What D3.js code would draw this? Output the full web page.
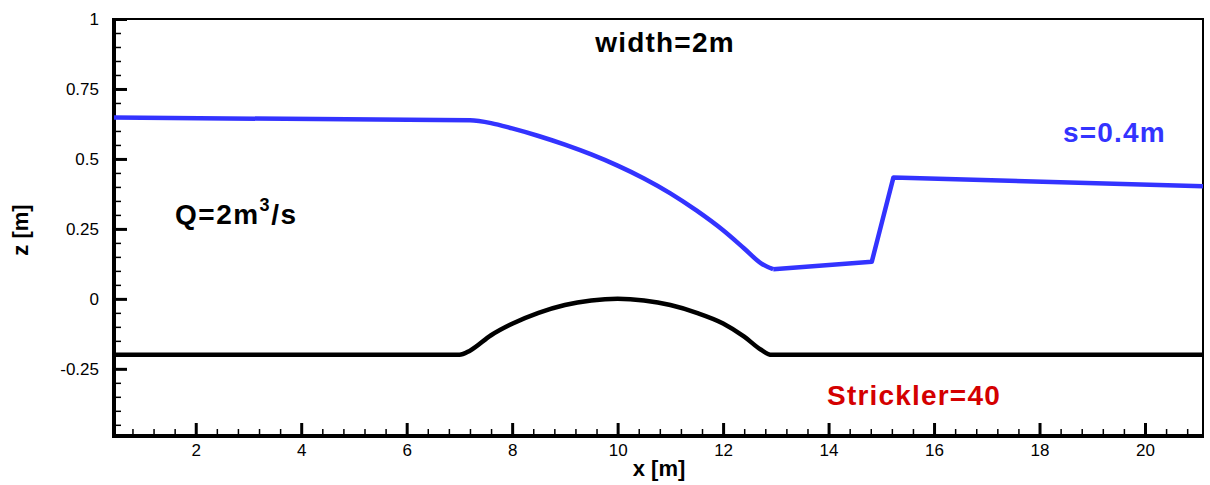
<!DOCTYPE html>
<html>
<head>
<meta charset="utf-8">
<script src="https://cdn.jsdelivr.net/npm/d3@7"></script>
<style>
  body { margin: 0; background: #fff; }
  text { font-family: Arial, "Liberation Sans", sans-serif; }
</style>
</head>
<body>
<div id="canvas"></div>
<script>
// bed profile (black)
const bedX = [0.45, 7.0, 7.2, 7.6, 8.0, 8.5, 9.0, 9.5, 10.0, 10.5, 11.0, 11.5, 12.0, 12.4, 12.72, 12.92, 21.1]
const bedZ = [-0.2, -0.2, -0.185, -0.13, -0.089, -0.05, -0.022, -0.006, 0, -0.006, -0.022, -0.05, -0.088, -0.135, -0.182, -0.2, -0.2]

// water surface (blue): smooth drawdown part, then the hydraulic jump part
const surfX = [0.45, 7.2, 7.6, 8.0, 8.5, 9.0, 9.5, 10.0, 10.5, 11.0, 11.5, 12.0, 12.4, 12.72, 12.95]
const surfZ = [0.648, 0.638, 0.628, 0.609, 0.582, 0.551, 0.516, 0.476, 0.43, 0.377, 0.315, 0.245, 0.18, 0.127, 0.106]
const jumpX = [12.95, 14.82, 15.02, 15.23, 21.1]
const jumpZ = [0.106, 0.133, 0.28, 0.434, 0.402]

const xTicks = [2, 4, 6, 8, 10, 12, 14, 16, 18, 20]
const yTicks = [-0.25, 0, 0.25, 0.5, 0.75, 1]
const xMinor = d3.range(0.8, 21.0, 0.4).filter(v => Math.abs(v / 2 - Math.round(v / 2)) > 0.01)
const yMinor = d3.range(-0.45, 1.0, 0.05).filter(v => Math.abs(v / 0.25 - Math.round(v / 0.25)) > 0.01)

const width = 1210
const height = 485
const margin = { top: 19, right: 7, bottom: 49, left: 114 }

const svg = d3.select('#canvas')
  .append('svg')
    .attr('width', width)
    .attr('height', height)

const x = d3.scaleLinear()
  .domain([0.45, 21.1])
  .range([margin.left, width - margin.right])

const y = d3.scaleLinear()
  .domain([-0.49, 1])
  .range([height - margin.bottom, margin.top])

const x0 = margin.left, x1 = width - margin.right
const y0 = height - margin.bottom, y1 = margin.top

// minor ticks
svg.append('g')
  .attr('transform', `translate(0, ${y0})`)
  .call(d3.axisBottom(x).tickValues(xMinor).tickSize(-7).tickFormat(''))
  .call(g => g.select('.domain').remove())
  .selectAll('line').attr('stroke-width', 1.5)

svg.append('g')
  .attr('transform', `translate(${x0}, 0)`)
  .call(d3.axisLeft(y).tickValues(yMinor).tickSize(-7).tickFormat(''))
  .call(g => g.select('.domain').remove())
  .selectAll('line').attr('stroke-width', 1.5)

// major ticks
svg.append('g')
  .attr('transform', `translate(0, ${y0})`)
  .call(d3.axisBottom(x).tickValues(xTicks).tickSize(-13).tickPadding(8).tickFormat(d => String(d)))
  .attr('font-size', '17px')
  .attr('font-family', 'Arial, "Liberation Sans", sans-serif')
  .call(g => g.select('.domain').remove())
  .call(g => g.selectAll('line').attr('stroke-width', 3))
  .call(g => g.selectAll('text').attr('fill', '#000'))

svg.append('g')
  .attr('transform', `translate(${x0}, 0)`)
  .call(d3.axisLeft(y).tickValues(yTicks).tickSize(-13).tickPadding(15).tickFormat(d => String(d)))
  .attr('font-size', '17px')
  .attr('font-family', 'Arial, "Liberation Sans", sans-serif')
  .call(g => g.select('.domain').remove())
  .call(g => g.selectAll('line').attr('stroke-width', 3))
  .call(g => g.selectAll('text').attr('fill', '#000'))

// frame
svg.append('rect')
  .attr('x', x0).attr('y', y1)
  .attr('width', x1 - x0).attr('height', y0 - y1)
  .attr('fill', 'none')
  .attr('stroke', '#000')
  .attr('stroke-width', 2)
svg.append('path')
  .attr('d', `M${x0},${y1 - 1}V${y0}H${x1 + 1}`)
  .attr('fill', 'none')
  .attr('stroke', '#000')
  .attr('stroke-width', 4)

const smooth = d3.line()
  .x(d => x(d[0]))
  .y(d => y(d[1]))
  .curve(d3.curveMonotoneX)

const straight = d3.line()
  .x(d => x(d[0]))
  .y(d => y(d[1]))

svg.append('path')
  .datum(bedX.map((v, i) => [v, bedZ[i]]))
  .attr('d', smooth)
  .attr('fill', 'none')
  .attr('stroke', '#000')
  .attr('stroke-width', 4.5)
  .attr('stroke-linejoin', 'round')

svg.append('path')
  .datum(surfX.map((v, i) => [v, surfZ[i]]))
  .attr('d', smooth)
  .attr('fill', 'none')
  .attr('stroke', '#3333ff')
  .attr('stroke-width', 4.5)
  .attr('stroke-linejoin', 'round')

svg.append('path')
  .datum(jumpX.map((v, i) => [v, jumpZ[i]]))
  .attr('d', straight)
  .attr('fill', 'none')
  .attr('stroke', '#3333ff')
  .attr('stroke-width', 4.5)
  .attr('stroke-linejoin', 'round')

// annotations
svg.append('text')
  .attr('x', 665).attr('y', 52)
  .attr('text-anchor', 'middle')
  .attr('font-size', '28px').attr('font-weight', 'bold')
  .attr('letter-spacing', '1.2px')
  .text('width=2m')

const q = svg.append('text')
  .attr('x', 175).attr('y', 224)
  .attr('font-size', '28px').attr('font-weight', 'bold')
  .attr('letter-spacing', '1.5px')
q.append('tspan').text('Q=2m')
q.append('tspan').attr('font-size', '18px').attr('dy', -13).text('3')
q.append('tspan').attr('dy', 13).text('/s')

svg.append('text')
  .attr('x', 1063).attr('y', 142)
  .attr('font-size', '28px').attr('font-weight', 'bold')
  .attr('letter-spacing', '1.2px')
  .attr('fill', '#3333ff')
  .text('s=0.4m')

svg.append('text')
  .attr('x', 827).attr('y', 405)
  .attr('font-size', '28px').attr('font-weight', 'bold')
  .attr('letter-spacing', '1.2px')
  .attr('fill', '#d40000')
  .text('Strickler=40')

// axis titles
svg.append('text')
  .attr('x', 659).attr('y', 476)
  .attr('text-anchor', 'middle')
  .attr('font-size', '22px').attr('font-weight', 'bold')
  .text('x [m]')

svg.append('text')
  .attr('transform', 'translate(28, 230) rotate(-90)')
  .attr('text-anchor', 'middle')
  .attr('font-size', '22px').attr('font-weight', 'bold')
  .text('z [m]')
</script>
</body>
</html>
